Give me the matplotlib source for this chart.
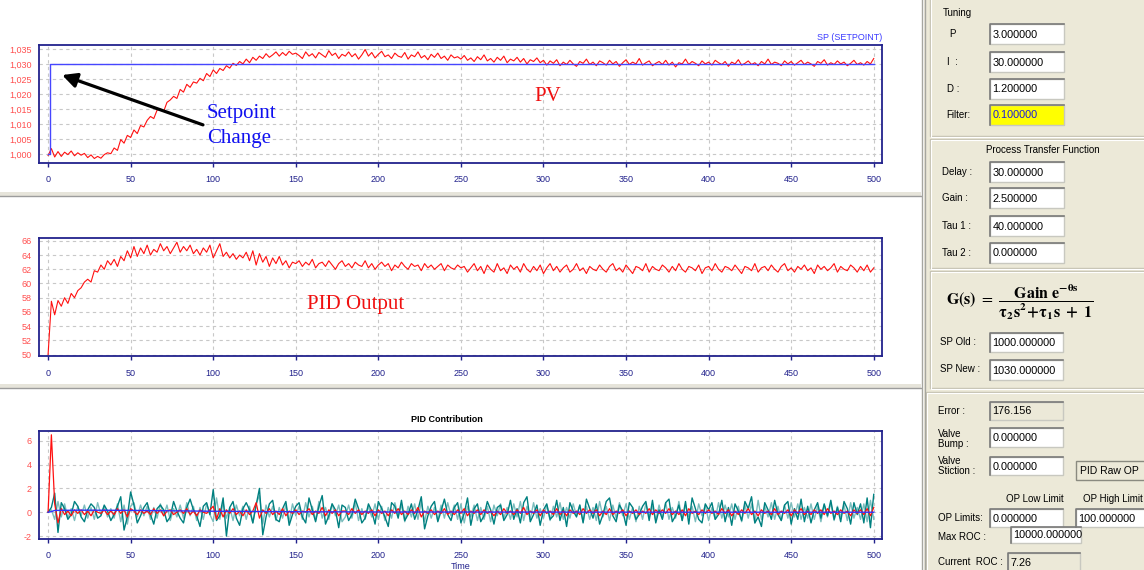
import numpy as np
import matplotlib
matplotlib.use('Agg')
import matplotlib.pyplot as plt
from matplotlib.patches import Rectangle
from matplotlib.ticker import FuncFormatter

W, H = 1144, 570
NAVY = '#22228C'
SALMON = '#FF4F4F'

# sample times (every 2 time units)
t = np.arange(0, 501, 2)

# setpoint step
sp_t = [0, 1, 1, 500]
sp_v = [1.000, 1.000, 1.030, 1.030]

# process value
pv = [
    0.9995, 1.0018, 0.9990, 1.0008, 0.9992, 1.0006, 0.9998, 1.0010, 0.9994, 1.0004,
    0.9996, 1.0002, 0.9988, 0.9997, 0.9985, 0.9992, 0.9986, 0.9998, 1.0004, 1.0001,
    1.0020, 1.0012, 1.0048, 1.0036, 1.0062, 1.0055, 1.0080, 1.0068, 1.0095, 1.0090,
    1.0112, 1.0125, 1.0118, 1.0146, 1.0150, 1.0142, 1.0172, 1.0180, 1.0192, 1.0185,
    1.0215, 1.0206, 1.0232, 1.0222, 1.0240, 1.0236, 1.0252, 1.0244, 1.0268, 1.0258,
    1.0280, 1.0268, 1.0285, 1.0278, 1.0294, 1.0286, 1.0302, 1.0295, 1.0308, 1.0300,
    1.0316, 1.0304, 1.0322, 1.0312, 1.0326, 1.0318, 1.0334, 1.0322, 1.0330, 1.0340,
    1.0326, 1.0338, 1.0328, 1.0342, 1.0332, 1.0336,
    1.0328, 1.0318, 1.0340, 1.0326, 1.0334, 1.0320, 1.0338, 1.0330, 1.0322, 1.0344,
    1.0328, 1.0336, 1.0318, 1.0332, 1.0326, 1.0340, 1.0324, 1.0334, 1.0316, 1.0330,
    1.0348, 1.0326, 1.0338, 1.0320, 1.0332, 1.0342, 1.0324, 1.0330, 1.0318, 1.0336,
    1.0326, 1.0322, 1.0338, 1.0316, 1.0330, 1.0324, 1.0340, 1.0320, 1.0328, 1.0314,
    1.0332, 1.0322, 1.0336, 1.0318, 1.0326, 1.0312, 1.0330, 1.0320, 1.0324, 1.0316,
    1.0328, 1.0312, 1.0320, 1.0308, 1.0324, 1.0314, 1.0330, 1.0310, 1.0318, 1.0306,
    1.0322, 1.0312, 1.0326, 1.0304, 1.0316, 1.0310, 1.0322, 1.0306, 1.0318, 1.0300,
    1.0314, 1.0308, 1.0320, 1.0304, 1.0312,
    1.0296, 1.0310, 1.0302, 1.0314, 1.0294, 1.0306, 1.0298, 1.0312, 1.0300, 1.0292,
    1.0308, 1.0302, 1.0316, 1.0298, 1.0306, 1.0294, 1.0310, 1.0304, 1.0296, 1.0312,
    1.0300, 1.0308, 1.0292, 1.0304, 1.0314, 1.0298, 1.0306, 1.0300, 1.0318, 1.0296,
    1.0304, 1.0310, 1.0294, 1.0302, 1.0308, 1.0298, 1.0312, 1.0296, 1.0306, 1.0290,
    1.0304, 1.0300, 1.0316, 1.0298, 1.0308, 1.0302, 1.0294, 1.0310, 1.0300, 1.0306,
    1.0296, 1.0312, 1.0304, 1.0298, 1.0308, 1.0292, 1.0306, 1.0300, 1.0314, 1.0296,
    1.0302, 1.0310, 1.0298, 1.0304, 1.0294, 1.0308, 1.0300, 1.0316, 1.0298, 1.0306,
    1.0302, 1.0294, 1.0310, 1.0300, 1.0308, 1.0296, 1.0304, 1.0312, 1.0298, 1.0306,
    1.0300, 1.0292, 1.0308, 1.0302, 1.0314, 1.0296, 1.0304, 1.0298, 1.0310, 1.0300,
    1.0306, 1.0294, 1.0302, 1.0312, 1.0298, 1.0304, 1.0296, 1.0308, 1.0300, 1.0318,
]

# controller output (middle panel)
op = [
    50.0, 57.5, 55.6, 57.6, 56.8, 58.0, 57.2, 58.6, 58.0, 59.0,
    59.4, 60.2, 60.6, 60.2, 61.8, 61.6, 62.6, 62.0, 63.2, 62.6,
    63.4, 62.4, 63.8, 63.2, 64.6, 63.6, 65.2, 63.8, 65.0, 64.2,
    65.4, 64.0, 64.8, 64.4, 65.6, 64.6, 65.2, 64.2, 65.0, 65.8,
    64.4, 65.2, 64.6, 65.4, 64.2, 64.8, 64.0, 65.0, 64.4, 65.4,
    63.6, 64.6, 65.6, 63.8, 64.4, 63.6, 64.2, 63.4, 64.0, 63.6,
    64.4, 63.2, 64.6, 62.6, 64.2, 63.0, 63.8, 62.4, 63.6, 62.8,
    63.8, 62.6, 63.2, 62.2, 63.0, 62.8,
    63.2, 62.4, 63.0, 62.6, 63.4, 62.2, 62.8, 63.0, 62.4, 63.2,
    62.6, 62.0, 62.8, 63.2, 62.4, 62.8, 62.2, 63.0, 62.6, 62.4,
    63.2, 62.2, 62.8, 62.0, 62.6, 63.0, 62.4, 62.8, 61.8, 62.6,
    62.2, 63.0, 62.4, 62.0, 62.8, 62.4, 62.6, 61.8, 62.8, 62.2,
    62.6, 62.0, 62.4, 62.8, 61.8, 62.6, 62.2, 62.0, 62.6, 62.2,
    62.4, 61.6, 62.2, 62.8, 61.8, 62.4, 61.4, 62.6, 62.0, 61.6,
    62.8, 61.8, 62.2, 61.4, 62.6, 62.0, 62.4, 61.6, 62.8, 62.0,
    61.6, 62.4, 61.8, 62.6, 61.4, 62.2, 62.8, 61.8, 62.4, 61.6,
    62.2, 62.6, 61.6, 62.0, 62.8, 61.8, 62.2, 61.4, 62.4, 62.0,
    61.8, 62.6, 62.0, 61.6, 62.4, 62.8, 61.8, 62.2, 61.6, 62.6,
    62.0, 61.4, 62.4, 62.2, 61.8, 62.8, 61.6, 62.4, 62.0, 61.8,
    62.6, 62.2, 61.6, 62.4, 61.8, 62.8, 62.0, 61.6, 62.4, 62.2,
    61.8, 62.6, 61.4, 62.2, 62.4, 61.8, 62.8, 62.0, 61.6, 62.4,
    62.2, 61.8, 62.6, 62.0, 61.4, 62.4, 62.2, 61.8, 62.8, 61.6,
    62.2, 62.4, 61.8, 62.6, 62.0, 61.6, 62.4, 62.8, 61.8, 62.2,
    61.6, 62.4, 62.0, 62.6, 61.8, 62.2, 61.4, 62.6, 62.0, 62.4,
    61.8, 62.2, 62.8, 61.6, 62.4, 62.0, 61.8, 62.6, 62.2, 61.6,
    62.4, 61.8, 62.6, 61.6, 62.2,
]

# PID contributions (bottom panel)
p_term = [
    0.0, 0.4, 1.6, -1.7, 0.8, 0.3, -0.6, -0.2, 0.9, 0.5,
    -0.4, -0.8, 0.2, 0.7, 0.4, -0.5, -0.3, 0.6, 0.1, -0.7,
    -0.2, 0.5, 1.3, -1.5, -0.4, 1.7, 0.6, -0.9, -0.3, 0.4,
    0.8, -0.2, -1.0, 0.3, 0.6, 0.2, -0.8, -0.4, 0.9, 0.1,
    -0.5, -0.9, 0.4, 1.1, 0.2, -0.3, -1.2, 0.5, 0.8, -0.2,
    1.9, -0.7, -0.3, 1.2, -2.0, 0.4, 0.9, -0.5, -1.1, 0.3,
    0.8, 0.2, -0.9, 0.6, 2.0, -1.9, -0.4, 0.7, 1.0, -0.6,
    -0.8, 0.3, 0.9, -1.1, -0.2, 0.5, 0.8, -0.4, -0.9, 1.2,
    0.2, -0.8, 0.5, 1.4, -1.0, -0.3, 0.7, 0.2, -1.3, 0.6,
    0.4, -0.7, -0.2, 1.1, 0.3, -0.9, -0.5, 0.7, 0.1, -1.0,
    0.9, 0.3, -0.4, -1.2, 0.8, 0.5, -0.5, 1.0, -0.7, -0.2,
    0.7, -0.6, 0.2, 1.3, -1.4, -0.3, 0.5, 0.9, -0.8, 0.1,
    1.1, -0.2, -0.7, 0.4, 0.8, -0.9, -0.1, 1.2, -1.1, 0.3,
    0.7, -0.8, -0.3, 0.9, 0.2, -1.0, 0.4, 0.6, -0.7, -0.2,
    1.0, -0.6, 0.3, -0.9, 0.8, 1.3, -0.8, -0.2, 0.6, -1.1,
    0.2, 0.7, -0.6, -0.3, 1.0, -0.7, 0.4, -1.2, 0.8, 0.1,
    -0.4, 0.6, -0.9, 1.1, 0.3, -0.5, 0.7, -1.0, -0.2, 0.9,
    1.2, -0.3, -0.8, 0.6, 0.1, -1.1, 0.8, 0.4, -0.6, -0.2,
    0.5, 0.9, -0.7, 1.0, -0.9, 0.2, -0.6, 0.8, 1.1, -0.8,
    -0.3, 0.6, -0.7, 0.9, -1.0, 1.2, 0.3, -0.6, -0.9, 0.7,
    0.2, 0.8, -0.6, -0.2, 1.0, -0.8, 0.4, -1.1, 0.7, 0.1,
    -0.7, 0.9, 0.3, 1.3, -0.9, -0.4, -1.2, 0.8, 0.2, -0.6,
    1.0, -0.2, -0.7, 0.6, 0.9, -1.0, 0.3, -0.6, 1.1, -0.8,
    0.5, -0.9, 0.2, 0.8, -0.5, 0.7, -0.3, 1.0, -0.6, 0.4,
    -0.8, 0.9, 0.3, -1.0, 0.8, -0.2, 0.7, -0.9, 1.2, -1.3,
    1.5,
]

p_term_filt = [
    0.0, 0.2, -0.6, 0.9, -0.4, 0.7, -0.5, 0.3, -0.7, 0.5,
    -0.3, 0.6, -0.5, 0.4, -0.6, 0.8, -0.2, 0.5, -0.4, 0.3,
    -0.5, 0.7, -0.8, 0.6, -1.0, 0.5, 0.8, -0.4, 0.6, -0.3,
    0.5, -0.6, 0.4, -0.5, 0.7, -0.3, 0.6, -0.7, 0.3, -0.4,
    0.6, -0.5, 0.8, -0.3, 0.5, -0.7, 0.4, -0.6, 0.7, -0.2,
    -0.8, 1.2, -0.6, 0.8, -0.5, 0.4, -0.7, 0.6, -0.3, 0.5,
    -0.6, 0.5, -0.9, 0.7, 1.4, -1.0, 0.6, -0.4, 0.5, -0.7,
    0.4, -0.5, 0.6, -0.8, 0.7, -0.3, 0.5, -0.6, 0.8, -0.4,
    0.5, -0.7, 0.9, -0.5, 0.4, -0.6, 0.7, -0.3, 0.6, -0.8,
    -0.4, 0.6, -0.5, 0.8, -0.7, 0.3, -0.6, 0.5, -0.4, 0.7,
    -0.6, 0.5, -0.7, 0.4, -0.5, 0.8, -0.3, 0.6, -0.8, 0.5,
    -0.4, 0.7, -0.6, 0.9, -0.8, 0.5, -0.5, 0.4, -0.7, 0.6,
    -0.5, 0.8, -0.3, 0.6, -0.6, 0.7, -0.9, 0.5, -0.4, 0.6,
    -0.7, 0.4, -0.6, 0.5, -0.8, 0.6, -0.3, 0.7, -0.5, 0.4,
    -0.6, 0.7, -0.4, 0.9, -0.7, 0.5, -0.6, 0.8, -0.5, 0.3,
    -0.5, 0.6, -0.7, 0.5, -0.4, 0.8, -0.6, 0.4, -0.5, 0.7,
    -0.3, 0.6, -0.8, 0.5, -0.6, 0.4, -0.7, 0.9, -0.4, 0.5,
    -0.7, 0.6, -0.5, 0.8, -0.3, 0.7, -0.6, 0.4, -0.8, 0.5,
    -0.6, 0.7, -0.4, 0.5, -0.7, 0.6, -0.5, 0.8, -0.6, 0.4,
    -0.5, 0.9, -0.7, 0.6, -0.4, 0.5, -0.8, 0.7, -0.3, 0.6,
    -0.7, 0.4, -0.6, 0.8, -0.5, 0.6, -0.4, 0.7, -0.6, 0.5,
    -0.8, 0.6, -0.5, 0.7, -0.9, 1.0, -0.6, 0.5, -0.4, 0.8,
    -0.6, 0.5, -0.7, 0.6, -0.5, 0.8, -0.4, 0.7, -0.6, 0.4,
    -0.5, 0.7, -0.6, 0.5, -0.8, 0.6, -0.4, 0.8, -0.7, 0.5,
    -0.4, 0.6, -0.7, 0.8, -0.5, 0.4, -0.6, 0.7, -0.8, 1.0,
    -0.6,
]

d_term = [
    0.0, 6.5, 0.7, -0.9, 0.3, -0.2, 0.1, -0.3, 0.2, -0.1,
    0.2, -0.2, 0.1, -0.3, 0.2, 0.0, -0.1, 0.2, -0.2, 0.1,
    -0.2, 0.3, -0.1, 0.2, -0.4, 0.3, 0.1, -0.2, 0.2, -0.1,
    0.1, -0.2, 0.3, -0.1, 0.2, -0.3, 0.1, 0.2, -0.2, 0.0,
    0.2, -0.1, 0.3, -0.2, 0.1, -0.3, 0.2, 0.0, -0.1, 0.2,
    0.5, -0.6, 0.3, -0.4, 0.2, -0.1, 0.3, -0.2, 0.1, -0.3,
    0.2, -0.2, 0.1, 0.8, -0.5, 0.2, -0.1, 0.3, -0.2, 0.1,
    -0.2, 0.3, -0.3, 0.1, -0.1, 0.2, -0.2, 0.1, 0.0, 0.3,
    -0.2, 0.1, -0.1, 0.4, -0.3, 0.2, -0.1, 0.2, -0.3, 0.1,
    0.1, -0.2, 0.3, -0.1, 0.2, -0.2, 0.1, -0.1, 0.2, -0.3,
    0.2, -0.1, 0.1, -0.3, 0.2, -0.1, 0.3, -0.2, 0.1, -0.2,
    0.2, -0.1, 0.4, -0.4, 0.1, -0.1, 0.2, -0.2, 0.1, -0.1,
    0.3, -0.2, 0.1, -0.2, 0.2, -0.1, 0.3, -0.3, 0.1, -0.1,
    0.2, -0.2, 0.2, -0.1, 0.1, -0.3, 0.1, -0.2, 0.3, -0.1,
    0.1, -0.2, 0.2, -0.1, 0.4, -0.2, 0.1, -0.1, 0.2, -0.3,
    0.2, -0.1, 0.1, -0.2, 0.3, -0.2, 0.1, -0.3, 0.2, -0.1,
    0.1, -0.2, 0.3, -0.1, 0.2, -0.1, 0.2, -0.3, 0.1, -0.2,
    0.3, -0.2, 0.1, -0.1, 0.2, -0.3, 0.1, -0.1, 0.2, -0.2,
    0.1, -0.1, 0.3, -0.2, 0.2, -0.1, 0.2, -0.1, 0.3, -0.2,
    0.1, -0.2, 0.2, -0.3, 0.3, -0.1, 0.1, -0.2, 0.2, -0.1,
    0.2, -0.1, 0.1, -0.2, 0.3, -0.1, 0.2, -0.3, 0.1, -0.2,
    0.2, -0.1, 0.3, -0.2, 0.1, -0.3, 0.2, -0.1, 0.1, -0.2,
    0.3, -0.2, 0.1, -0.1, 0.2, -0.3, 0.2, -0.1, 0.3, -0.2,
    0.1, -0.2, 0.2, -0.1, 0.2, -0.2, 0.3, -0.1, 0.1, -0.2,
    0.2, -0.1, 0.1, -0.3, 0.2, -0.1, 0.2, -0.2, 0.3, -0.3,
    0.4,
]

i_t = [0, 2, 4, 20, 40, 60, 80, 100, 150, 200, 300, 400, 500]
i_term = [0.0, 0.05, 0.15, 0.17, 0.16, 0.14, 0.11, 0.08, 0.04, 0.02, 0.01, 0.0, 0.0]

# right-hand settings panel
tuning = [('P', '3.000000'), ('I  :', '30.000000'), ('D :', '1.200000'), ('Filter:', '0.100000')]
process = [('Delay :', '30.000000'), ('Gain :', '2.500000'),
           ('Tau 1 :', '40.000000'), ('Tau 2 :', '0.000000')]

plt.rcParams['font.family'] = ['Liberation Sans', 'DejaVu Sans']
plt.rcParams['mathtext.fontset'] = 'stix'

fig = plt.figure(figsize=(W / 100, H / 100), dpi=100)
fig.patch.set_facecolor('white')

# overlay in pixel coordinates for the window chrome
bg = fig.add_axes([0, 0, 1, 1])
bg.set_xlim(0, W)
bg.set_ylim(H, 0)
bg.axis('off')


def px_axes(left, top, right, bottom):
    return fig.add_axes([left / W, 1 - bottom / H, (right - left) / W, (bottom - top) / H])


def style(ax, ylim, yticks, fmt):
    ax.set_xlim(-5.5, 505)
    ax.set_ylim(*ylim)
    ax.set_xticks(range(0, 501, 50))
    ax.set_yticks(yticks)
    ax.grid(True, color='#C8C8C8', linestyle=(0, (3, 3)), linewidth=0.8)
    ax.set_axisbelow(True)
    for s in ax.spines.values():
        s.set_color(NAVY)
        s.set_linewidth(1.3)
    ax.tick_params(axis='x', colors=NAVY, labelsize=6.5, length=3, width=1, pad=6)
    ax.tick_params(axis='y', length=0, labelcolor=SALMON, labelsize=6.5, pad=5)
    ax.yaxis.set_major_formatter(FuncFormatter(fmt))


# separators between the chart panes
for y in (192, 384):
    bg.add_patch(Rectangle((0, y), 921, 4, facecolor='#E6E4DA', edgecolor='none'))
    bg.plot([0, 921], [y + 4, y + 4], color='#9C9C9C', lw=1)

# ---- PV chart
ax1 = px_axes(39, 45, 882, 163)
style(ax1, (0.997, 1.0363), np.arange(1.000, 1.0351, 0.005),
      lambda v, p: f'{v:.3f}'.replace('.', ','))
ax1.plot(t, pv, color='#FF1010', lw=0.8)
ax1.plot(sp_t, sp_v, color='#4646FF', lw=1.0)
ax1.annotate('', xy=(8.5, 1.0263), xytext=(93.8, 1.0097),
             arrowprops=dict(arrowstyle='-|>', color='black', lw=2.3,
                             mutation_scale=22, shrinkA=0, shrinkB=0))
ax1.text(96.2, 1.0094, 'Setpoint\nChange', color='#1010F0', fontsize=15,
         family='Liberation Serif', ha='left', va='center', linespacing=1.4)
ax1.text(302.7, 1.019, 'PV', color='#F01010', fontsize=15,
         family='Liberation Serif', ha='center', va='center')
bg.text(882, 38, 'SP (SETPOINT)', color='#3C3CFF', fontsize=6.5, ha='right', va='center')

# ---- OP chart
ax2 = px_axes(39, 238, 882, 356)
style(ax2, (49.8, 66.4), range(50, 67, 2), lambda v, p: f'{v:.0f}')
ax2.plot(t, op, color='#FF1010', lw=0.8)
ax2.text(186.4, 57.0, 'PID Output', color='#F01010', fontsize=15,
         family='Liberation Serif', ha='center', va='center')

# ---- PID contribution chart
ax3 = px_axes(39, 431, 882, 539)
style(ax3, (-2.25, 6.82), range(-2, 7, 2), lambda v, p: f'{v:.0f}')
ax3.plot(t, p_term_filt, color='#7CBDBD', lw=1.0)
ax3.plot(t, p_term, color='#008080', lw=1.0)
ax3.plot(t, d_term, color='#FF1010', lw=0.9)
ax3.plot(i_t, i_term, color='#3030FF', lw=1.0)
ax3.set_xlabel('Time', color=NAVY, fontsize=6.5, labelpad=1)
bg.text(447, 419, 'PID Contribution', fontsize=6.5, weight='bold', ha='center', va='center')

# ---- settings panel
bg.add_patch(Rectangle((924, 0), 220, 570, facecolor='#ECE9D8', edgecolor='none', zorder=0))
for x in (921.5, 924.5):
    bg.plot([x, x], [0, 570], color='#A6A6A0', lw=1)


def group(x0, y0, x1, y1):
    bg.add_patch(Rectangle((x0, y0), x1 - x0, y1 - y0, facecolor='none',
                           edgecolor='#C6C3B3', lw=1))
    bg.add_patch(Rectangle((x0 + 1, y0 + 1), x1 - x0, y1 - y0, facecolor='none',
                           edgecolor='white', lw=0.8))


def field(x0, y0, x1, y1, txt, fc='white', tc='black'):
    bg.add_patch(Rectangle((x0, y0), x1 - x0, y1 - y0, facecolor=fc,
                           edgecolor='#C8C8C0', lw=1))
    bg.plot([x0, x0, x1], [y1, y0, y0], color='#7A7A7A', lw=1.2)
    bg.text(x0 + 2.5, (y0 + y1) / 2 + 0.5, txt, color=tc, fontsize=7.8, va='center', ha='left')


def label(x, y, txt, **kw):
    bg.text(x, y, txt, fontsize=7, va='center', ha=kw.pop('ha', 'left'), **kw)


group(930, -5, 1150, 136)
group(930, 139, 1150, 268)
group(930, 271, 1150, 388)
group(926, 392, 1150, 575)

label(943, 13, 'Tuning')
for (name, val), y, lx in zip(tuning, (34, 62, 89, 115), (949, 947, 947, 946)):
    label(lx, y, name)
    if name.startswith('Filter'):
        field(990, y - 10, 1064, y + 10, val, fc='#FFFF00', tc='#1A1AE0')
    else:
        field(990, y - 10, 1064, y + 10, val)

label(1043, 150, 'Process Transfer Function', ha='center')
for (name, val), y in zip(process, (172, 198, 226, 253)):
    label(942, y, name)
    field(990, y - 10, 1064, y + 10, val)

bg.text(946, 302, r'$\mathbf{G(s)}\ =\ \dfrac{\mathbf{Gain\ e^{-\theta s}}}{\mathbf{\tau_2 s^2\!+\!\tau_1 s\ +\ 1}}$',
        fontsize=11.5, va='center', ha='left')

label(940, 342, 'SP Old :')
field(990, 333, 1063, 352, '1000.000000')
label(940, 369, 'SP New :')
field(990, 360, 1063, 380, '1030.000000')

label(938, 411, 'Error :')
field(990, 402, 1063, 420, '176.156', fc='#ECE9D8')
label(938, 439, 'Valve\nBump :', linespacing=1.0)
field(990, 428, 1063, 447, '0.000000')
label(938, 466, 'Valve\nStiction :', linespacing=1.0)
field(990, 457, 1063, 475, '0.000000')
bg.add_patch(Rectangle((1076, 461), 80, 19, facecolor='#ECE9D8', edgecolor='#8A8A80', lw=1))
bg.text(1080, 471, 'PID Raw OP', fontsize=7.5, va='center', ha='left')
label(1035, 499, 'OP Low Limit', ha='center')
label(1113, 499, 'OP High Limit', ha='center')
label(938, 518, 'OP Limits:')
field(990, 509, 1063, 527, '0.000000')
field(1076, 509, 1150, 527, '100.000000')
label(938, 537, 'Max ROC :')
field(1011, 527, 1081, 543, '10000.000000')
label(938, 562, 'Current  ROC :')
field(1008, 553, 1080, 572, '7.26', fc='#ECE9D8')

fig.savefig('out.png', dpi=100)
